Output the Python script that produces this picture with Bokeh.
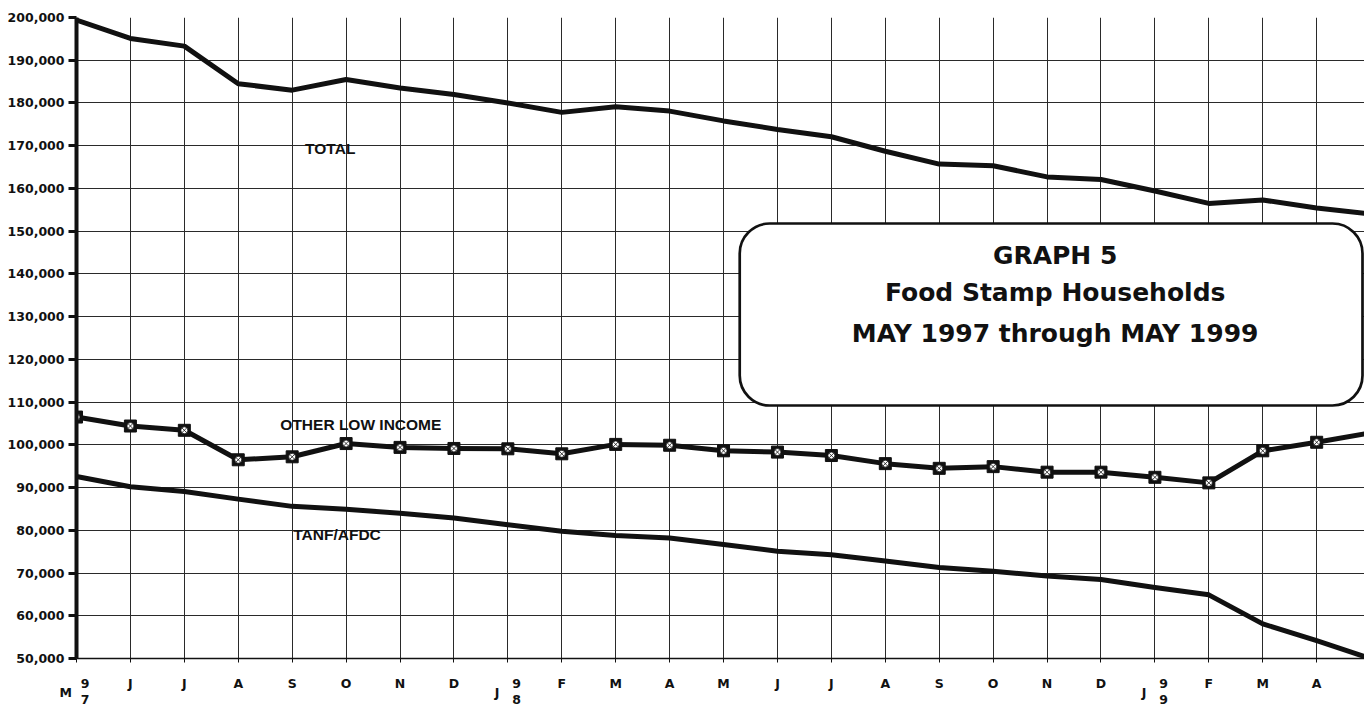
from bokeh.plotting import figure
from bokeh.models import (FixedTicker, BoxAnnotation, Label, NumeralTickFormatter, Range1d,
                          ColumnDataSource, LinearAxis)
from bokeh.embed import file_html
from bokeh.resources import INLINE

# ---------------- data ----------------
month_letters = ["M", "J", "J", "A", "S", "O", "N", "D",
                 "J", "F", "M", "A", "M", "J", "J", "A", "S", "O", "N", "D",
                 "J", "F", "M", "A", "M"]
month_idx = list(range(len(month_letters)))
# year-start ticks: index -> (month letter, first year digit, second year digit)
year_ticks = {0: ("M", "9", "7"), 8: ("J", "9", "8"), 20: ("J", "9", "9")}

total = [199400, 195100, 193300, 184500, 183000, 185500, 183500, 182000,
         180000, 177800, 179100, 178100, 175800, 173800, 172100, 168700,
         165700, 165300, 162700, 162100, 159400, 156500, 157300, 155400, 154000]
other_low_income = [106500, 104400, 103400, 96500, 97200, 100300, 99400, 99150,
                    99070, 97900, 100100, 99900, 98600, 98300, 97500, 95600,
                    94500, 94900, 93600, 93600, 92400, 91100, 98600, 100600, 102800]
tanf_afdc = [92600, 90200, 89100, 87300, 85600, 84900, 84000, 82900,
             81300, 79800, 78800, 78200, 76700, 75100, 74300, 72800,
             71300, 70400, 69300, 68500, 66600, 64900, 58100, 54200, 50000]
y_ticks = list(range(50000, 200001, 10000))

series_labels = [("TOTAL", 4.24, 169400), ("OTHER LOW INCOME", 3.78, 104700), ("TANF/AFDC", 4.02, 78980)]
title_lines = [("GRAPH 5", 144300), ("Food Stamp Households", 135700), ("MAY 1997 through MAY 1999", 126100)]

# ---------------- figure ----------------
p = figure(width=1364, height=709, output_backend="svg", toolbar_location=None,
           x_range=Range1d(0, 23.887), y_range=Range1d(50000, 200000),
           min_border_left=76, min_border_right=0, min_border_top=17, min_border_bottom=51,
           background_fill_color="white", border_fill_color="white")
p.outline_line_color = None

INK = "#111111"
GRID = "#2a2a2a"
NB = "\u00a0"
TICK_FONT = dict(major_label_text_font="DejaVu Sans", major_label_text_font_style="bold",
                 major_label_text_font_size="12.5px", major_label_text_color=INK)
BLANK_AXIS = dict(axis_line_color=None, major_tick_line_color=None, minor_tick_line_color=None,
                  major_tick_out=0, major_tick_in=0, minor_tick_out=0, minor_tick_in=0)

# y axis
p.yaxis.ticker = FixedTicker(ticks=y_ticks)
p.yaxis.formatter = NumeralTickFormatter(format="0,0")
p.yaxis.axis_line_width = 4
p.yaxis.axis_line_color = INK
p.yaxis.major_tick_out = 8
p.yaxis.major_tick_in = 0
p.yaxis.major_tick_line_width = 3
p.yaxis.major_tick_line_color = INK
p.yaxis.minor_tick_line_color = None
p.yaxis.major_label_standoff = 4
for k, v in TICK_FONT.items():
    setattr(p.yaxis[0], k, v)

# x axis: month letters (first row); year-start ticks show the first year digit
p.xaxis.ticker = FixedTicker(ticks=month_idx)
overrides = {}
for i, m in enumerate(month_letters):
    overrides[i] = (NB * 4 + year_ticks[i][1]) if i in year_ticks else m
p.xaxis.major_label_overrides = overrides
p.xaxis.axis_line_width = 1.5
p.xaxis.axis_line_color = INK
p.xaxis.major_tick_out = 4
p.xaxis.major_tick_in = 0
p.xaxis.major_tick_line_width = 1
p.xaxis.major_tick_line_color = INK
p.xaxis.minor_tick_line_color = None
p.xaxis.major_label_standoff = 13
for k, v in TICK_FONT.items():
    setattr(p.xaxis[0], k, v)

# second row: month letter of year-start ticks (shifted left)
row2 = LinearAxis(ticker=FixedTicker(ticks=list(year_ticks)),
                  major_label_overrides={i: v[0] + NB * 5 for i, v in year_ticks.items()},
                  major_label_standoff=-9, **BLANK_AXIS, **TICK_FONT)
p.add_layout(row2, "below")
# third row: second year digit (shifted right)
row3 = LinearAxis(ticker=FixedTicker(ticks=list(year_ticks)),
                  major_label_overrides={i: NB * 4 + v[2] for i, v in year_ticks.items()},
                  major_label_standoff=-11, **BLANK_AXIS, **TICK_FONT)
p.add_layout(row3, "below")

p.xgrid.grid_line_color = GRID
p.xgrid.grid_line_width = 1
p.ygrid.grid_line_color = GRID
p.ygrid.grid_line_width = 1

# lines
src = ColumnDataSource(dict(x=month_idx, total=total, other=other_low_income, tanf=tanf_afdc))
p.line("x", "total", source=src, line_width=5, line_color=INK, line_join="round")
p.line("x", "tanf", source=src, line_width=5, line_color=INK, line_join="round")
p.line("x", "other", source=src, line_width=5, line_color=INK, line_join="round")
p.scatter("x", "other", source=src, marker="square", size=12, fill_color=INK, line_color=INK)
p.scatter("x", "other", source=src, marker="circle_x", size=7, fill_color="white",
          line_color=INK, line_width=0.8)

# series labels
for txt, x, y in series_labels:
    p.add_layout(Label(x=x, y=y, text=txt, text_align="left", text_baseline="alphabetic",
                       text_font="Liberation Sans", text_font_style="bold",
                       text_font_size="15.5px", text_color=INK))

# title box
p.add_layout(BoxAnnotation(left=12.30, right=23.85, top=151790, bottom=109200,
                           fill_color="white", fill_alpha=1.0, line_color=INK, line_alpha=1.0,
                           line_width=2.7, border_radius=30))
for txt, y in title_lines:
    p.add_layout(Label(x=18.15, y=y, text=txt, text_align="center", text_baseline="alphabetic",
                       text_font="DejaVu Sans", text_font_style="bold",
                       text_font_size="25px", text_color=INK))

open("out.html", "w").write(file_html(p, INLINE))
